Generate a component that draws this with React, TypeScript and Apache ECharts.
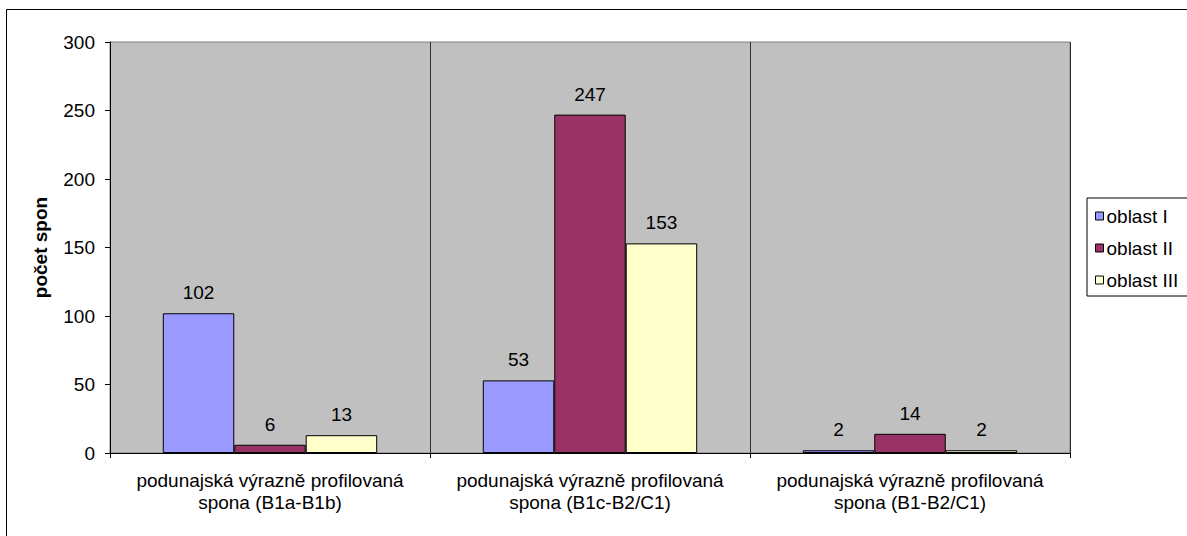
import React, { useEffect, useRef } from "react";
import * as echarts from "echarts";

const categories = [
  "podunajská výrazně profilovaná\nspona (B1a-B1b)",
  "podunajská výrazně profilovaná\nspona (B1c-B2/C1)",
  "podunajská výrazně profilovaná\nspona (B1-B2/C1)",
];
const seriesNames = ["oblast I", "oblast II", "oblast III"];
const oblastI = [102, 53, 2];
const oblastII = [6, 247, 14];
const oblastIII = [13, 153, 2];
const colors = ["#9999FF", "#993366", "#FFFFCC"];
const yTicks = { min: 0, max: 300, interval: 50 };

const FONT = "'Liberation Sans', Arial, sans-serif";
const FS = 19;

export default function App() {
  const ref = useRef<HTMLDivElement>(null);
  useEffect(() => {
    if (!ref.current) return;
    const chart = echarts.init(ref.current, undefined, { renderer: "svg" });
    const values = [oblastI, oblastII, oblastIII];
    chart.setOption({
      animation: false,
      backgroundColor: "#FFFFFF",
      textStyle: { fontFamily: FONT },
      graphic: [
        {
          type: "rect",
          shape: { x: 6.5, y: 9.5, width: 1300, height: 700 },
          style: { fill: "none", stroke: "#000000", lineWidth: 1 },
          silent: true,
          z: -1,
        },
      ],
      grid: {
        left: 110,
        top: 42,
        right: 117,
        bottom: 83,
        show: true,
        backgroundColor: "#C0C0C0",
        borderColor: "#808080",
        borderWidth: 1,
      },
      legend: {
        orient: "vertical",
        left: 1087,
        top: 198,
        data: seriesNames,
        itemWidth: 8,
        itemHeight: 8,
        itemGap: 10,
        padding: [7, 40, 5, 8],
        borderColor: "#000000",
        borderWidth: 1,
        backgroundColor: "#FFFFFF",
        icon: "rect",
        textStyle: { fontFamily: FONT, fontSize: FS, lineHeight: 22, color: "#000000", padding: [0, 0, 0, -2] },
        itemStyle: { borderColor: "#000000", borderWidth: 1 },
      },
      xAxis: {
        type: "category",
        data: categories,
        axisLine: { lineStyle: { color: "#000000", width: 1 } },
        axisTick: { show: true, alignWithLabel: false, length: 5, lineStyle: { color: "#000000" } },
        splitLine: { show: true, lineStyle: { color: "#303030", width: 1 } },
        axisLabel: {
          color: "#000000",
          fontFamily: FONT,
          fontSize: FS,
          lineHeight: 22,
          margin: 16,
          interval: 0,
        },
      },
      yAxis: {
        type: "value",
        min: yTicks.min,
        max: yTicks.max,
        interval: yTicks.interval,
        name: "počet spon",
        nameLocation: "middle",
        nameGap: 60,
        nameTextStyle: { fontFamily: FONT, fontSize: FS, fontWeight: "bold", color: "#000000" },
        axisLine: { show: true, lineStyle: { color: "#000000", width: 1 } },
        axisTick: { show: true, length: 5, lineStyle: { color: "#000000" } },
        splitLine: { show: false },
        axisLabel: { color: "#000000", fontFamily: FONT, fontSize: FS, margin: 15 },
      },
      series: seriesNames.map((name, i) => ({
        name,
        type: "bar",
        data: values[i],
        barGap: "0%",
        barCategoryGap: "33%",
        itemStyle: { color: colors[i], borderColor: "#000000", borderWidth: 1 },
        label: {
          show: true,
          position: "top",
          distance: 11,
          color: "#000000",
          fontFamily: FONT,
          fontSize: FS,
          lineHeight: 19,
        },
      })),
    });
    return () => chart.dispose();
  }, []);
  return (
    <div
      ref={ref}
      style={{ position: "fixed", left: 0, top: 0, width: 1187, height: 536 }}
    />
  );
}
